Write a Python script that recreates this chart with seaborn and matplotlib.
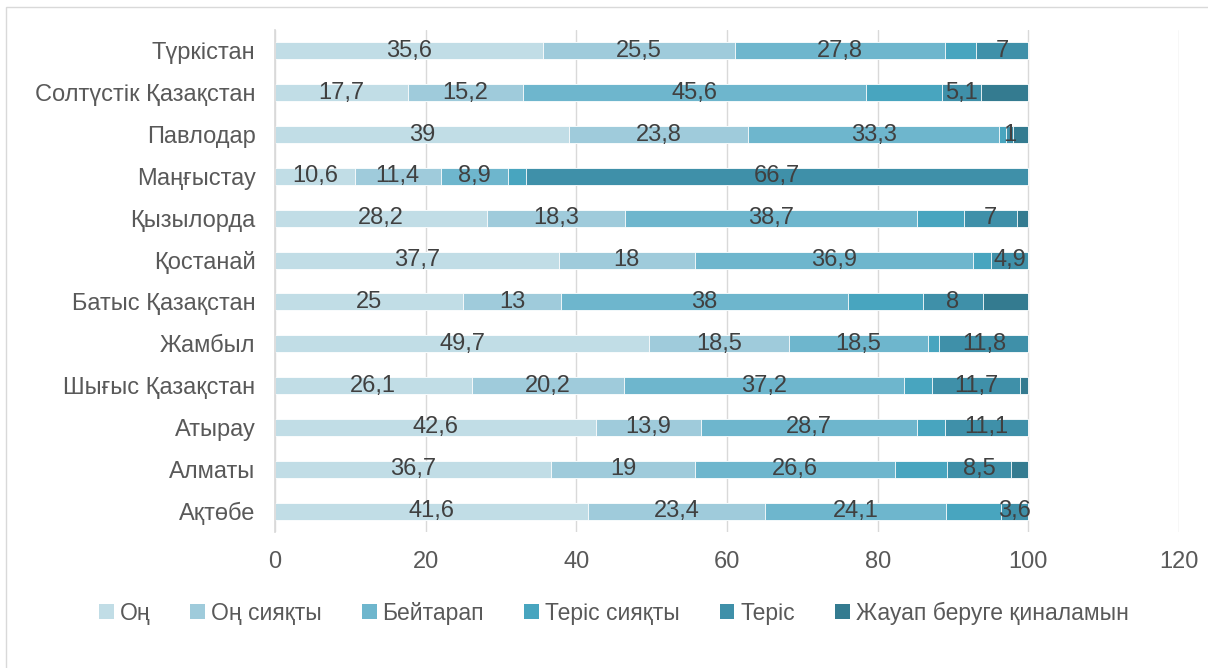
import matplotlib
matplotlib.use("Agg")
import matplotlib.pyplot as plt
import seaborn as sns
import pandas as pd
import numpy as np
from matplotlib.patches import Rectangle, Patch

# Деректер (жоғарыдан төмен)
regions = ["Түркістан", "Солтүстік Қазақстан", "Павлодар", "Маңғыстау",
           "Қызылорда", "Қостанай", "Батыс Қазақстан", "Жамбыл",
           "Шығыс Қазақстан", "Атырау", "Алматы", "Ақтөбе"]
on = [35.6, 17.7, 39, 10.6, 28.2, 37.7, 25, 49.7, 26.1, 42.6, 36.7, 41.6]
on_siakty = [25.5, 15.2, 23.8, 11.4, 18.3, 18, 13, 18.5, 20.2, 13.9, 19, 23.4]
beitarap = [27.8, 45.6, 33.3, 8.9, 38.7, 36.9, 38, 18.5, 37.2, 28.7, 26.6, 24.1]
teris_siakty = [4.1, 10.1, 0.9, 2.4, 6.3, 2.5, 10, 1.5, 3.7, 3.7, 6.9, 7.3]
teris = [7, 5.1, 1, 66.7, 7, 4.9, 8, 11.8, 11.7, 11.1, 8.5, 3.6]
zhauap = [0, 6.3, 2, 0, 1.5, 0, 6, 0, 1.1, 0, 2.3, 0]

series = ["Оң", "Оң сияқты", "Бейтарап", "Теріс сияқты", "Теріс",
          "Жауап беруге қиналамын"]
colors = ["#c1dde6", "#9fcbdb", "#6eb6cd", "#48a5bf", "#3f90a9", "#347b90"]
labelled = [True, True, True, False, True, False]

df = pd.DataFrame({"region": regions, series[0]: on, series[1]: on_siakty,
                   series[2]: beitarap, series[3]: teris_siakty,
                   series[4]: teris, series[5]: zhauap})
cum = df[series].cumsum(axis=1)

sns.set_theme(style="white")
plt.rcParams["font.family"] = ["Liberation Sans", "DejaVu Sans"]

fig = plt.figure(figsize=(12.08, 6.68), dpi=100)
ax = fig.add_axes([275 / 1208, 1 - 532 / 668, (1179 - 275) / 1208, 502 / 668])

# жинақталған бағандар: соңғы жиынтықтан бастап кері салу
for i in range(len(series) - 1, -1, -1):
    sns.barplot(data=cum, x=series[i], y=df["region"], orient="h",
                color=colors[i], width=0.41, saturation=1, ax=ax,
                edgecolor="white", linewidth=0.6)

# мәндер белгілері
for i, s in enumerate(series):
    if not labelled[i]:
        continue
    for j, v in enumerate(df[s]):
        if v <= 0:
            continue
        center = cum[s].iloc[j] - v / 2
        txt = f"{v:g}".replace(".", ",")
        ax.text(center, j, txt, ha="center", va="center",
                fontsize=17, color="#404040")

ax.set_xlim(0, 120)
ax.set_ylim(11.5, -0.5)
ax.set_xticks(range(0, 121, 20))
ax.xaxis.grid(True, color="#d9d9d9", linewidth=1)
ax.set_axisbelow(True)
ax.set_xlabel("")
ax.set_ylabel("")
for side in ["top", "right", "bottom"]:
    ax.spines[side].set_visible(False)
ax.spines["left"].set_color("#d9d9d9")
ax.tick_params(axis="both", length=0, labelsize=17, labelcolor="#595959")
ax.tick_params(axis="x", pad=14)
ax.tick_params(axis="y", pad=14)

handles = [Patch(facecolor=c, edgecolor="none") for c in colors]
fig.legend(handles, series, loc="center", bbox_to_anchor=(0.508, 1 - 613 / 668),
           ncol=6, frameon=False, fontsize=16.5, handlelength=0.65,
           handleheight=0.65, handletextpad=0.25, columnspacing=1.75,
           labelcolor="#595959")

fig.patches.append(Rectangle((6 / 1208, -0.1), 1.2, 1.1 - 7 / 668,
                             transform=fig.transFigure, fill=False,
                             edgecolor="#d9d9d9", linewidth=1))

fig.savefig("out.png", dpi=100, facecolor="white")
